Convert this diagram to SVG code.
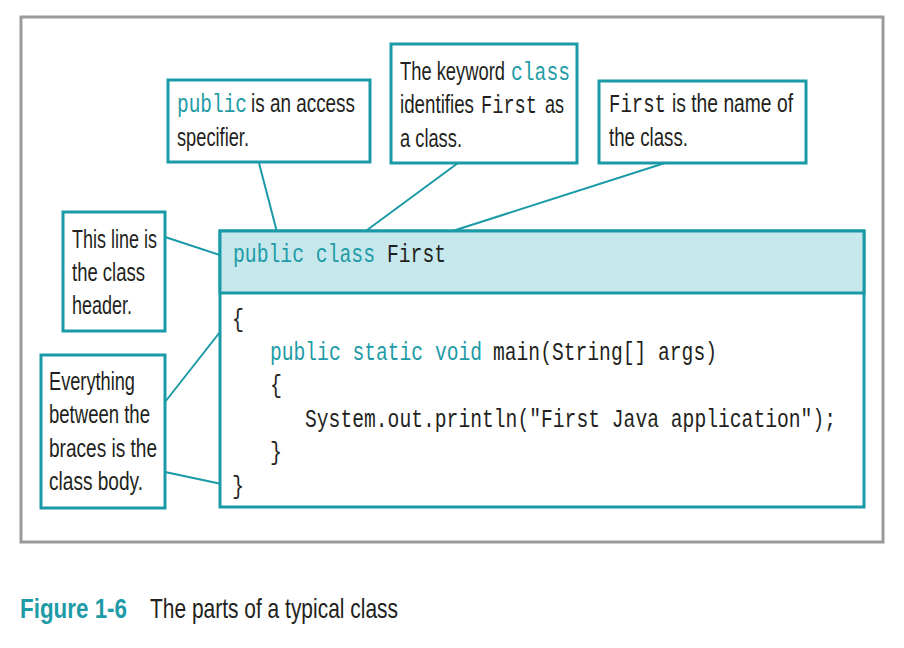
<svg xmlns="http://www.w3.org/2000/svg" width="904" height="648" viewBox="0 0 904 648">
<style>
.box{fill:#fff;stroke:#1a9aa6;stroke-width:3}
.hdr{fill:#c6e8ec;stroke:#1a9aa6;stroke-width:3}
.ln{stroke:#1a9aa6;stroke-width:2;fill:none}
.s{font-family:"Liberation Sans",Arial,sans-serif;font-size:18px;fill:#231f20}
.m{font-family:"Liberation Mono","DejaVu Sans Mono",monospace;font-size:19.6px;fill:#231f20}
.k{fill:#1e9ba6}
.cap{font-family:"Liberation Sans",Arial,sans-serif;font-size:20px;fill:#231f20}
</style>
<rect x="21" y="17" width="862" height="525" fill="#fff" stroke="#9a9a9c" stroke-width="3"/>

<g id="connectors">
<line class="ln" x1="259" y1="163" x2="278" y2="236"/>
<line class="ln" x1="458" y1="163" x2="359" y2="236"/>
<line class="ln" x1="665" y1="163" x2="437" y2="236"/>
<line class="ln" x1="165" y1="237" x2="229" y2="258"/>
<line class="ln" x1="165" y1="402" x2="231" y2="318"/>
<line class="ln" x1="165" y1="472" x2="231" y2="486"/>
</g>

<g id="code">
<rect class="box" x="220" y="231" width="644" height="276"/>
<rect class="hdr" x="220" y="231" width="644" height="62"/>
<text class="m k" transform="translate(233 262) scale(1 1.3)" textLength="142" lengthAdjust="spacingAndGlyphs">public class</text>
<text class="m" transform="translate(387 262) scale(1 1.3)" textLength="59" lengthAdjust="spacingAndGlyphs">First</text>
<text class="m" transform="translate(232 327) scale(1 1.3)" textLength="12" lengthAdjust="spacingAndGlyphs">{</text>
<text class="m k" transform="translate(270 360) scale(1 1.3)" textLength="212" lengthAdjust="spacingAndGlyphs">public static void</text>
<text class="m" transform="translate(493 360) scale(1 1.3)" textLength="224" lengthAdjust="spacingAndGlyphs">main(String[] args)</text>
<text class="m" transform="translate(270 393) scale(1 1.3)" textLength="12" lengthAdjust="spacingAndGlyphs">{</text>
<text class="m" transform="translate(305 427) scale(1 1.3)" textLength="531" lengthAdjust="spacingAndGlyphs">System.out.println("First Java application");</text>
<text class="m" transform="translate(270 460) scale(1 1.3)" textLength="12" lengthAdjust="spacingAndGlyphs">}</text>
<text class="m" transform="translate(232 494) scale(1 1.3)" textLength="12" lengthAdjust="spacingAndGlyphs">}</text>
</g>

<g id="callout-public">
<rect class="box" x="168" y="80" width="202" height="82"/>
<text class="m k" transform="translate(177 112) scale(1 1.3)" textLength="70" lengthAdjust="spacingAndGlyphs">public</text>
<text class="s" transform="translate(251 112) scale(1 1.4)" textLength="104" lengthAdjust="spacingAndGlyphs">is an access</text>
<text class="s" transform="translate(177 146) scale(1 1.4)" textLength="72" lengthAdjust="spacingAndGlyphs">specifier.</text>
</g>

<g id="callout-class">
<rect class="box" x="391" y="44" width="186" height="119"/>
<text class="s" transform="translate(400 80) scale(1 1.4)" textLength="105" lengthAdjust="spacingAndGlyphs">The keyword</text>
<text class="m k" transform="translate(511 80) scale(1 1.3)" textLength="59" lengthAdjust="spacingAndGlyphs">class</text>
<text class="s" transform="translate(400 113) scale(1 1.4)" textLength="74" lengthAdjust="spacingAndGlyphs">identifies</text>
<text class="m" transform="translate(481 113) scale(1 1.3)" textLength="56" lengthAdjust="spacingAndGlyphs">First</text>
<text class="s" transform="translate(545 113) scale(1 1.4)" textLength="19" lengthAdjust="spacingAndGlyphs">as</text>
<text class="s" transform="translate(400 147) scale(1 1.4)" textLength="62" lengthAdjust="spacingAndGlyphs">a class.</text>
</g>

<g id="callout-first">
<rect class="box" x="599" y="81" width="207" height="82"/>
<text class="m" transform="translate(609 112) scale(1 1.3)" textLength="57" lengthAdjust="spacingAndGlyphs">First</text>
<text class="s" transform="translate(672 112) scale(1 1.4)" textLength="121" lengthAdjust="spacingAndGlyphs">is the name of</text>
<text class="s" transform="translate(609 146) scale(1 1.4)" textLength="79" lengthAdjust="spacingAndGlyphs">the class.</text>
</g>

<g id="callout-header">
<rect class="box" x="63" y="212" width="102" height="119"/>
<text class="s" transform="translate(72 248) scale(1 1.4)" textLength="85" lengthAdjust="spacingAndGlyphs">This line is</text>
<text class="s" transform="translate(72 281) scale(1 1.4)" textLength="73" lengthAdjust="spacingAndGlyphs">the class</text>
<text class="s" transform="translate(72 314) scale(1 1.4)" textLength="60" lengthAdjust="spacingAndGlyphs">header.</text>
</g>

<g id="callout-body">
<rect class="box" x="41" y="355" width="124" height="153"/>
<text class="s" transform="translate(49 390) scale(1 1.4)" textLength="86" lengthAdjust="spacingAndGlyphs">Everything</text>
<text class="s" transform="translate(49 423) scale(1 1.4)" textLength="101" lengthAdjust="spacingAndGlyphs">between the</text>
<text class="s" transform="translate(49 457) scale(1 1.4)" textLength="108" lengthAdjust="spacingAndGlyphs">braces is the</text>
<text class="s" transform="translate(49 490) scale(1 1.4)" textLength="94" lengthAdjust="spacingAndGlyphs">class body.</text>
</g>

<g id="caption">
<text class="cap" transform="translate(20 618) scale(1 1.35)" font-weight="bold" style="fill:#1e9ba6" textLength="107" lengthAdjust="spacingAndGlyphs">Figure 1-6</text>
<text class="cap" transform="translate(150 618) scale(1 1.35)" textLength="248" lengthAdjust="spacingAndGlyphs">The parts of a typical class</text>
</g>
</svg>
